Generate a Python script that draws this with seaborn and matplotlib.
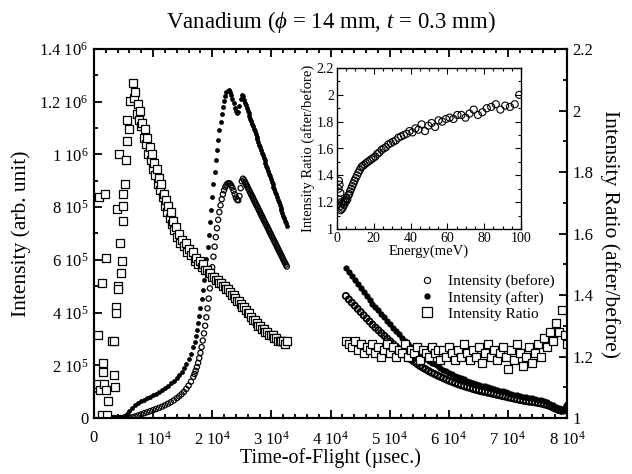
import pandas as pd
import matplotlib
matplotlib.use("Agg")
import matplotlib.pyplot as plt
from matplotlib.lines import Line2D
from matplotlib.ticker import MultipleLocator
import seaborn as sns

# ---- values ----
# time-of-flight channels (usec), first block
tof1 = [3000, 3500, 4000, 4500, 5000, 5500, 6000, 6500, 7000, 7500, 8000, 8500,
        9000, 9500, 10000, 10500, 11000, 11500, 12000, 12500, 13000, 13500, 14000,
        14400, 14800, 15200, 15600, 16000, 16400, 16800,
        17000, 17200, 17400, 17600, 17800, 18000, 18200, 18400, 18600, 18800,
        19000, 19200, 19400, 19600, 19800, 20000, 20200, 20400, 20600, 20800,
        21000, 21200, 21400, 21600, 21800, 22000, 22200, 22400,
        22600, 22800, 23000, 23200, 23400, 23600, 23800, 24000, 24200, 24400,
        24600, 24800, 25000, 25200, 25400,
        25550, 25700, 25850, 26000, 26150, 26300, 26450, 26600, 26750, 26900,
        27050, 27200, 27350, 27500, 27650, 27800, 27950, 28100, 28250, 28400,
        28550, 28700, 28850, 29000, 29150, 29300, 29450, 29600, 29750, 29900,
        30050, 30200, 30350, 30500, 30650, 30800, 30950, 31100, 31250, 31400,
        31550, 31700, 31850, 32000, 32150, 32300, 32450, 32600]
# intensities in units of 1e5
before1 = [0.00, 0.00, 0.00, 0.00, 0.00, 0.00, 0.01, 0.03, 0.06, 0.10, 0.14, 0.18,
           0.22, 0.26, 0.30, 0.34, 0.38, 0.43, 0.48, 0.54, 0.60, 0.67, 0.75,
           0.82, 0.90, 0.99, 1.10, 1.23, 1.38, 1.56,
           1.67, 1.79, 1.93, 2.09, 2.27, 2.47, 2.69, 2.94, 3.21, 3.50,
           3.82, 4.16, 4.53, 4.92, 5.32, 5.72, 6.12, 6.50, 6.86, 7.20,
           7.52, 7.81, 8.07, 8.30, 8.49, 8.64, 8.76, 8.84,
           8.89, 8.91, 8.89, 8.83, 8.74, 8.62, 8.49, 8.37, 8.28, 8.26,
           8.42, 8.72, 8.98, 9.08, 9.02,
           8.95, 8.88, 8.82, 8.75, 8.68, 8.61, 8.54, 8.47, 8.41, 8.34,
           8.27, 8.20, 8.13, 8.07, 8.00, 7.93, 7.86, 7.79, 7.72, 7.66,
           7.59, 7.52, 7.45, 7.38, 7.32, 7.25, 7.18, 7.11, 7.04, 6.98,
           6.91, 6.84, 6.77, 6.70, 6.64, 6.57, 6.50, 6.43, 6.36, 6.29,
           6.23, 6.16, 6.09, 6.02, 5.95, 5.89, 5.82, 5.75]
after1 = [0.00, 0.00, 0.01, 0.03, 0.08, 0.16, 0.26, 0.38, 0.48, 0.56, 0.63, 0.69,
          0.75, 0.80, 0.86, 0.92, 0.98, 1.05, 1.14, 1.22, 1.31, 1.41, 1.52,
          1.62, 1.74, 1.88, 2.04, 2.22, 2.44, 2.70,
          2.88, 3.10, 3.34, 3.60, 3.88, 4.18, 4.50, 4.85, 5.22, 5.62,
          6.04, 6.48, 6.94, 7.42, 7.91, 8.40, 8.88, 9.34, 9.77, 10.17,
          10.55, 10.91, 11.24, 11.54, 11.80, 12.03, 12.22, 12.35,
          12.42, 12.44, 12.38, 12.27, 12.12, 11.95, 11.78, 11.64, 11.56, 11.62,
          11.84, 12.10, 12.24, 12.20, 12.06,
          11.96, 11.86, 11.76, 11.66, 11.56, 11.46, 11.36, 11.26, 11.16, 11.06,
          10.97, 10.87, 10.77, 10.67, 10.57, 10.47, 10.37, 10.27, 10.17, 10.07,
          9.97, 9.87, 9.77, 9.67, 9.57, 9.47, 9.37, 9.27, 9.17, 9.07,
          8.97, 8.87, 8.77, 8.67, 8.58, 8.48, 8.38, 8.28, 8.18, 8.08,
          7.98, 7.88, 7.78, 7.68, 7.58, 7.48, 7.38, 7.28]

# second block
tof2 = [42600, 43100, 43600, 44100, 44600, 45100, 45600, 46100, 46600, 47100,
        47600, 48100, 48600, 49100, 49600, 50100, 50600, 51100, 51600, 52100,
        52600, 53100, 53600, 54100, 54600, 55100, 55600, 56100, 56600, 57100,
        57600, 58100, 58600, 59100, 59600, 60100, 60600, 61100, 61600, 62100,
        62600, 63100, 63600, 64100, 64600, 65100, 65600, 66100, 66600, 67100,
        67600, 68100, 68600, 69100, 69600, 70100, 70600, 71100, 71600, 72100,
        72600, 73100, 73600, 74100, 74600, 75100, 75600, 76100, 76600, 77100,
        77600, 78100, 78600, 79100, 79600, 80000]
before2 = [4.63, 4.50, 4.38, 4.26, 4.14, 4.02, 3.90, 3.78, 3.66, 3.54,
           3.43, 3.33, 3.22, 3.12, 3.01, 2.91, 2.80, 2.70, 2.60, 2.50,
           2.40, 2.31, 2.22, 2.14, 2.06, 1.98, 1.91, 1.85, 1.78, 1.72,
           1.67, 1.61, 1.56, 1.51, 1.46, 1.41, 1.37, 1.32, 1.28, 1.24,
           1.21, 1.17, 1.14, 1.10, 1.07, 1.04, 1.01, 0.99, 0.96, 0.94,
           0.91, 0.88, 0.86, 0.83, 0.81, 0.78, 0.76, 0.73, 0.71, 0.68,
           0.66, 0.64, 0.62, 0.61, 0.59, 0.57, 0.55, 0.52, 0.49, 0.45,
           0.40, 0.35, 0.30, 0.27, 0.29, 0.42]
after2 = [5.70, 5.54, 5.39, 5.24, 5.09, 4.94, 4.79, 4.64, 4.49, 4.34,
          4.21, 4.08, 3.95, 3.82, 3.69, 3.56, 3.43, 3.30, 3.17, 3.05,
          2.93, 2.82, 2.71, 2.61, 2.51, 2.42, 2.33, 2.25, 2.17, 2.10,
          2.03, 1.96, 1.90, 1.84, 1.78, 1.72, 1.66, 1.61, 1.56, 1.51,
          1.47, 1.42, 1.38, 1.34, 1.30, 1.27, 1.23, 1.20, 1.17, 1.14,
          1.10, 1.07, 1.04, 1.01, 0.98, 0.95, 0.92, 0.89, 0.86, 0.83,
          0.80, 0.78, 0.76, 0.74, 0.72, 0.70, 0.67, 0.63, 0.59, 0.54,
          0.49, 0.43, 0.37, 0.33, 0.36, 0.52]

# intensity ratio (after/before)
ratio1_tof = [680, 680, 850, 1020, 1350, 1350, 1520, 1520, 1690, 1860, 2030, 2030,
              2200, 2370, 3050, 3380, 3380, 3550, 3720, 3720, 3890, 4060, 4060,
              4230, 4400, 4570, 4740, 4910, 4910, 4910, 5250, 5410, 5580, 5580,
              5920, 6090, 6600,
              6800, 7000, 7200, 7400, 7600, 7800, 8000, 8200, 8400, 8600, 8800,
              9000, 9200, 9400, 9600, 9800, 10000, 10200, 10400, 10600, 10800,
              11000, 11200, 11400, 11600, 11800, 12000, 12200, 12400, 12600,
              12800, 13000, 13200, 13400, 13600, 13800, 14000,
              14300, 14600, 14900, 15200, 15500, 15800, 16100, 16400, 16700,
              17000, 17300, 17600, 17900, 18200, 18500, 18800, 19100, 19400,
              19700, 20000, 20300, 20600, 20900, 21200, 21500, 21800, 22100,
              22400, 22700, 23000, 23300, 23600, 23900, 24200, 24500, 24800,
              25100, 25400, 25700, 26000, 26300, 26600, 26900, 27200, 27500,
              27800, 28100, 28400, 28700, 29000, 29300, 29600, 29900, 30200,
              30500, 30800, 31100, 31400, 31700, 32000, 32300, 32600]
ratio1 = [1.27, 1.11, 1.72, 1.09, 1.44, 1.01, 1.18, 1.15, 1.11, 1.73, 1.52, 1.09,
          1.01, 1.055, 1.25, 1.25, 1.14, 1.10, 1.36, 1.34, 1.68, 1.43, 1.42,
          1.86, 1.57, 1.47, 1.51, 1.73, 1.69, 1.64, 1.76, 1.84, 1.97, 1.90,
          1.94, 2.03, 2.09,
          2.04, 2.06, 1.99, 2.02, 1.97, 2.00, 1.95, 1.96, 1.91, 1.94, 1.89,
          1.91, 1.86, 1.88, 1.84, 1.86, 1.81, 1.83, 1.79, 1.81, 1.76,
          1.78, 1.74, 1.76, 1.72, 1.73, 1.69, 1.71, 1.67, 1.69,
          1.65, 1.67, 1.63, 1.64, 1.61, 1.62, 1.59,
          1.60, 1.57, 1.58, 1.56, 1.57, 1.54, 1.55, 1.53, 1.54,
          1.51, 1.52, 1.50, 1.51, 1.49, 1.50, 1.48, 1.48, 1.47,
          1.47, 1.46, 1.46, 1.45, 1.45, 1.44, 1.44, 1.43, 1.43,
          1.42, 1.42, 1.41, 1.40, 1.40, 1.39, 1.38, 1.38, 1.37,
          1.36, 1.36, 1.35, 1.34, 1.34, 1.33, 1.32, 1.32, 1.31,
          1.30, 1.30, 1.29, 1.29, 1.28, 1.28, 1.27, 1.27, 1.27,
          1.26, 1.26, 1.25, 1.25, 1.25, 1.25, 1.24, 1.25]
ratio2 = [1.25, 1.24, 1.23, 1.25, 1.22, 1.24, 1.21, 1.23, 1.22, 1.24,
          1.21, 1.23, 1.20, 1.22, 1.24, 1.21, 1.23, 1.20, 1.22, 1.21,
          1.24, 1.20, 1.22, 1.21, 1.23, 1.19, 1.22, 1.21, 1.20, 1.23,
          1.21, 1.22, 1.19, 1.22, 1.20, 1.23, 1.21, 1.19, 1.22, 1.20,
          1.24, 1.21, 1.19, 1.22, 1.20, 1.23, 1.18, 1.21, 1.24, 1.20,
          1.22, 1.19, 1.21, 1.23, 1.20, 1.16, 1.22, 1.19, 1.24, 1.21,
          1.17, 1.20, 1.23, 1.18, 1.21, 1.24, 1.20, 1.26, 1.23, 1.28,
          1.25, 1.31, 1.28, 1.35, 1.27, 1.24]

# inset: ratio vs energy (meV)
energy = [0.8, 1.0, 1.2, 1.4, 1.6, 1.8, 2.0, 2.3, 2.6, 2.9, 3.2, 3.5, 3.9, 4.3,
          4.7, 5.1, 5.6, 6.1, 6.6, 7.1, 7.7, 8.3, 8.9, 9.5, 10.2, 10.9, 11.6,
          12.4, 13.2, 14.0, 14.9, 15.8, 16.7, 17.7, 18.7, 19.7, 20.8, 21.9,
          23.0, 24.2, 25.4, 26.6, 27.9, 29.2, 30.5, 31.9, 33.3, 34.8, 36.3,
          37.8, 39.4, 41.0, 42.6, 44.3, 46.0, 47.8, 49.6, 51.4, 53.3, 55.2,
          57.2, 59.2, 61.2, 63.3, 65.4, 67.6, 69.8, 72.0, 74.3, 76.6, 79.0,
          81.4, 83.8, 86.3, 88.8, 91.4, 94.0, 96.6, 99.0]
energy_ratio = [1.30, 1.36, 1.22, 1.33, 1.17, 1.27, 1.14, 1.20, 1.15, 1.19, 1.16,
                1.20, 1.18, 1.21, 1.20, 1.23, 1.22, 1.25, 1.26, 1.28, 1.30, 1.32,
                1.34, 1.36, 1.38, 1.40, 1.42, 1.44, 1.46, 1.47, 1.48, 1.49, 1.50,
                1.51, 1.52, 1.53, 1.54, 1.56, 1.57, 1.59, 1.60, 1.61, 1.63, 1.64,
                1.65, 1.66, 1.68, 1.69, 1.70, 1.71, 1.73, 1.72, 1.75, 1.74, 1.78,
                1.73, 1.77, 1.79, 1.76, 1.81, 1.80, 1.82, 1.83, 1.82, 1.85, 1.85,
                1.83, 1.86, 1.89, 1.85, 1.87, 1.90, 1.91, 1.93, 1.89, 1.92, 1.91,
                1.93, 2.00]

x_ticks = [0, 10000, 20000, 30000, 40000, 50000, 60000, 70000, 80000]
x_tick_labels = ["0", "1 10$^{4}$", "2 10$^{4}$", "3 10$^{4}$", "4 10$^{4}$",
                 "5 10$^{4}$", "6 10$^{4}$", "7 10$^{4}$", "8 10$^{4}$"]
yl_ticks = [0, 2e5, 4e5, 6e5, 8e5, 1e6, 1.2e6, 1.4e6]
yl_tick_labels = ["0", "2 10$^{5}$", "4 10$^{5}$", "6 10$^{5}$", "8 10$^{5}$",
                  "1 10$^{6}$", "1.2 10$^{6}$", "1.4 10$^{6}$"]
yr_ticks = [1, 1.2, 1.4, 1.6, 1.8, 2, 2.2]
yr_tick_labels = ["1", "1.2", "1.4", "1.6", "1.8", "2", "2.2"]
inset_x_ticks = [0, 20, 40, 60, 80, 100]
legend_labels = ["Intensity (before)", "Intensity (after)", "Intensity Ratio"]

# ---- tables ----
df_int1 = pd.DataFrame({
    "tof": tof1,
    "before": [v * 1e5 for v in before1],
    "after": [v * 1e5 for v in after1],
})
df_int2 = pd.DataFrame({
    "tof": tof2,
    "before": [v * 1e5 for v in before2],
    "after": [v * 1e5 for v in after2],
})
df_ratio = pd.DataFrame({"tof": ratio1_tof + tof2, "ratio": ratio1 + ratio2})
df_inset = pd.DataFrame({"energy": energy, "ratio": energy_ratio})

# ---- style ----
sns.set_style("ticks")
plt.rcParams["font.family"] = ["Liberation Serif", "DejaVu Serif"]
plt.rcParams["mathtext.fontset"] = "custom"
plt.rcParams["mathtext.rm"] = "Liberation Serif"
plt.rcParams["mathtext.it"] = "Liberation Serif:italic"
plt.rcParams["axes.linewidth"] = 1.5
for key in ["text.color", "axes.labelcolor", "axes.edgecolor",
            "xtick.color", "ytick.color"]:
    plt.rcParams[key] = "black"

fig = plt.figure(figsize=(6.32, 4.74), dpi=100)
ax = fig.add_axes([94 / 632, 1 - 418 / 474, 473 / 632, 369 / 474])

# first block: channels are finer, marks a bit smaller
sns.scatterplot(data=df_int1, x="tof", y="before", ax=ax, marker="o", s=14,
                facecolor="none", edgecolor="black", linewidth=0.9)
sns.scatterplot(data=df_int1, x="tof", y="after", ax=ax, marker="o", s=12,
                color="black", linewidth=0)
# second block
sns.scatterplot(data=df_int2, x="tof", y="before", ax=ax, marker="o", s=20,
                facecolor="none", edgecolor="black", linewidth=1.3)
sns.scatterplot(data=df_int2, x="tof", y="after", ax=ax, marker="o", s=20,
                color="black", linewidth=0)

ax2 = ax.twinx()
sns.scatterplot(data=df_ratio, x="tof", y="ratio", ax=ax2, marker="s", s=30,
                facecolor="white", edgecolor="black", linewidth=0.9)

ax.set_xlim(0, 80000)
ax.set_ylim(0, 1.4e6)
ax2.set_ylim(1, 2.2)

ax.set_xticks(x_ticks)
ax.set_xticklabels(x_tick_labels)
ax.set_yticks(yl_ticks)
ax.set_yticklabels(yl_tick_labels)
ax2.set_yticks(yr_ticks)
ax2.set_yticklabels(yr_tick_labels)
ax.xaxis.set_minor_locator(MultipleLocator(2000))
ax.yaxis.set_minor_locator(MultipleLocator(1e5))
ax2.yaxis.set_minor_locator(MultipleLocator(0.1))

ax.tick_params(which="both", direction="in", top=True, right=False,
               labelsize=12, width=1.3)
ax.tick_params(which="major", length=6)
ax.tick_params(which="minor", length=3)
ax.tick_params(axis="y", pad=4)
ax.tick_params(axis="x", pad=9)
ax2.tick_params(which="both", direction="in", labelsize=12, width=1.3, pad=4)
ax2.tick_params(which="major", length=6)
ax2.tick_params(which="minor", length=3)

ax.set_xlabel("Time-of-Flight (\u00b5sec.)", fontsize=14.5, labelpad=0)
ax.set_ylabel("Intensity (arb. unit)", fontsize=15.5, labelpad=6)
ax2.set_ylabel("Intensity Ratio (after/before)", fontsize=15.5, rotation=270,
               labelpad=19)
ax.set_title("Vanadium ($\\phi$ = 14 mm, $t$ = 0.3 mm)", fontsize=16.5, pad=15)

handles = [
    Line2D([], [], ls="none", marker="o", ms=4.5, mfc="none", mec="black", mew=0.8),
    Line2D([], [], ls="none", marker="o", ms=3.5, mfc="black", mec="black"),
    Line2D([], [], ls="none", marker="s", ms=7, mfc="none", mec="black", mew=0.9),
]
ax2.legend(handles, legend_labels, loc="upper left", bbox_to_anchor=(0.651, 0.437),
           bbox_transform=fig.transFigure, frameon=False, fontsize=11,
           handlelength=1.0, handletextpad=0.9, labelspacing=0.15, borderpad=0)

# ---- inset ----
axin = fig.add_axes([337 / 632, 1 - 229 / 474, 184 / 632, 161 / 474])
sns.scatterplot(data=df_inset, x="energy", y="ratio", ax=axin, marker="o", s=26,
                facecolor="none", edgecolor="black", linewidth=0.8)
axin.set_xlim(0, 100)
axin.set_ylim(1, 2.2)
axin.set_xticks(inset_x_ticks)
axin.set_yticks(yr_ticks)
axin.set_yticklabels(yr_tick_labels)
axin.xaxis.set_minor_locator(MultipleLocator(5))
axin.yaxis.set_minor_locator(MultipleLocator(0.1))
for sp in axin.spines.values():
    sp.set_linewidth(1.0)
axin.tick_params(which="both", direction="in", top=True, right=True,
                 labelsize=10, width=0.8, pad=2)
axin.tick_params(which="major", length=4)
axin.tick_params(which="minor", length=2)
axin.set_xlabel("Energy(meV)", fontsize=10.5, labelpad=0)
axin.set_ylabel("Intensity Ratio (after/before)", fontsize=10.5, labelpad=1)

fig.savefig("out.png", dpi=100)
